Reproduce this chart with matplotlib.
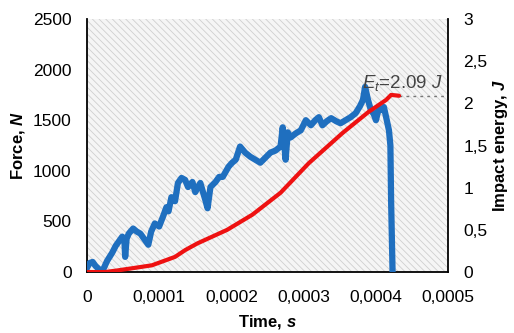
import matplotlib
matplotlib.use("Agg")
import numpy as np
import matplotlib.pyplot as plt
from matplotlib.patches import Rectangle

plt.rcParams['font.family'] = ['Liberation Sans', 'DejaVu Sans']
plt.rcParams['mathtext.fontset'] = 'custom'
plt.rcParams['mathtext.rm'] = 'Liberation Sans'
plt.rcParams['mathtext.it'] = 'Liberation Sans:italic:bold'
plt.rcParams['mathtext.sf'] = 'Liberation Sans:italic'
plt.rcParams['hatch.linewidth'] = 0.6

# force signal: time in microseconds, force in N
t_force_us = [0, 4, 8, 12, 18, 21, 28, 35, 40, 43,
              49, 52, 53, 55, 58, 64, 69, 74, 80, 85,
              89, 94, 100, 106, 110, 113, 117, 122, 126, 131,
              136, 140, 146, 150, 157, 164, 167, 171, 178, 183,
              188, 192, 196, 201, 206, 212, 219, 226, 233, 240,
              247, 254, 261, 268, 271, 275, 278, 282, 289, 296,
              303, 310, 316, 321, 326, 332, 338, 345, 351, 358,
              365, 372, 378, 382, 385, 389, 393, 397, 400, 404,
              408, 411, 415, 418, 420, 421, 423]
force = [40, 90, 100, 60, 20, 0, 110, 190, 260, 290,
         350, 300, 150, 330, 380, 430, 400, 380, 320, 270,
         400, 480, 450, 560, 640, 600, 740, 700, 880, 930,
         910, 840, 890, 790, 880, 710, 630, 840, 890, 940,
         940, 990, 1040, 1080, 1110, 1240, 1180, 1140, 1110, 1080,
         1130, 1180, 1200, 1240, 1430, 1110, 1380, 1330, 1370, 1400,
         1500, 1450, 1500, 1530, 1450, 1490, 1520, 1490, 1470, 1500,
         1530, 1570, 1640, 1700, 1830, 1700, 1600, 1560, 1500, 1620,
         1600, 1630, 1500, 1400, 1250, 700, 0]

# impact energy: time in microseconds, energy in J
t_energy_us = [0, 25, 43, 90, 122, 136, 153, 194, 229, 268,
               307, 354, 390, 414, 421, 432]
energy = [0, 0.0, 0.02, 0.08, 0.18, 0.26, 0.34, 0.50, 0.68, 0.94,
          1.29, 1.65, 1.90, 2.04, 2.10, 2.09]
e_total = 2.09

t_force = np.array(t_force_us) * 1e-6
t_energy = np.array(t_energy_us) * 1e-6

fig = plt.figure(figsize=(5.14, 3.33), dpi=100)
ax = fig.add_axes([0.169, 0.183, 0.703, 0.760])
ax.set_facecolor('#f5f5f5')
ax.add_patch(Rectangle((0, 0), 1, 1, transform=ax.transAxes, facecolor='none',
                       edgecolor='#cfcfcf', hatch='\\\\\\\\\\', lw=0, zorder=0))

ax.plot(t_force, force, color='#1f6fbf', lw=4.5, solid_joinstyle='round', zorder=3)
ax.set_xlim(0, 0.0005)
ax.set_ylim(0, 2500)
ax.set_xticks([0, 0.0001, 0.0002, 0.0003, 0.0004, 0.0005])
ax.set_xticklabels(['0', '0,0001', '0,0002', '0,0003', '0,0004', '0,0005'])
ax.set_yticks([0, 500, 1000, 1500, 2000, 2500])
ax.tick_params(axis='x', length=0, labelsize=12.5, pad=13)
ax.tick_params(axis='y', length=0, labelsize=12.5, pad=11)
ax.set_xlabel('Time, $\\it{s}$', fontsize=12, fontweight='bold', labelpad=6)
ax.set_ylabel('Force, $\\it{N}$', fontsize=12, fontweight='bold', labelpad=4)
for s in ['top', 'right']:
    ax.spines[s].set_visible(False)
for s in ['left', 'bottom']:
    ax.spines[s].set_linewidth(1.3)

ax2 = ax.twinx()
ax2.plot(t_energy, energy, color='#ee1111', lw=3, solid_capstyle='round', zorder=4)
ax2.plot([t_energy[-1], 0.0005], [e_total, e_total], color='#777777', lw=1,
         linestyle=(0, (2, 3)))
ax2.text(0.000381, 2.12, '$\\mathsf{E_t}$=2.09 $\\mathsf{J}$', fontsize=13.5,
         color='#444444', ha='left', va='bottom')
ax2.set_ylim(0, 3)
ax2.set_yticks([0, 0.5, 1, 1.5, 2, 2.5, 3])
ax2.set_yticklabels(['0', '0,5', '1', '1,5', '2', '2,5', '3'])
ax2.tick_params(length=0, labelsize=12.5, pad=11)
ax2.set_ylabel('Impact energy, $\\it{J}$', fontsize=12, fontweight='bold', labelpad=2)
for s in ['top', 'left', 'bottom']:
    ax2.spines[s].set_visible(False)
ax2.spines['right'].set_linewidth(1.3)

fig.savefig('out.png', dpi=100)
